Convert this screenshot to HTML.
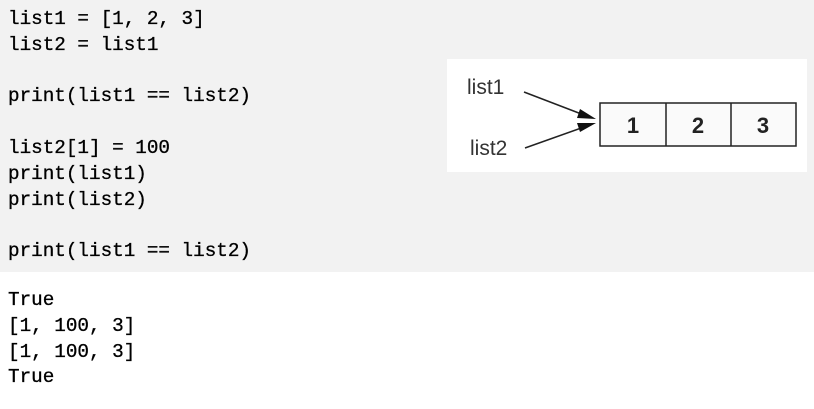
<!DOCTYPE html>
<html><head><style>
body{margin:0;width:814px;height:409px;background:#fff;overflow:hidden;position:relative}
.g{position:absolute;left:0;top:0;width:814px;height:272px;background:#f2f2f2}
pre{position:absolute;margin:0;left:8px;font-family:"Liberation Mono",monospace;font-size:19.3px;line-height:25.8px;color:#000;-webkit-text-stroke:0.3px #000}
</style></head><body>
<div class="g"></div>
<pre style="top:7px">list1 = [1, 2, 3]
list2 = list1

print(list1 == list2)

list2[1] = 100
print(list1)
print(list2)

print(list1 == list2)</pre>
<pre style="top:288px">True
[1, 100, 3]
[1, 100, 3]
True</pre>
<svg style="position:absolute;left:0;top:0" width="814" height="409">
<rect x="447" y="59" width="360" height="113" fill="#fff"/>
<text x="467" y="94" font-family="Liberation Sans,sans-serif" font-size="21" fill="#333">list1</text>
<text x="470" y="155" font-family="Liberation Sans,sans-serif" font-size="21" fill="#333">list2</text>
<line x1="524" y1="92" x2="584" y2="115" stroke="#222" stroke-width="1.5"/>
<polygon points="596,119 580,109 577,118" fill="#111"/>
<line x1="525" y1="148" x2="584" y2="127" stroke="#222" stroke-width="1.5"/>
<polygon points="596,123 577,123 580,132" fill="#111"/>
<rect x="600" y="103" width="196" height="43" fill="#fafafa" stroke="#222" stroke-width="1.5"/>
<line x1="666" y1="103" x2="666" y2="146" stroke="#222" stroke-width="1.5"/>
<line x1="731" y1="103" x2="731" y2="146" stroke="#222" stroke-width="1.5"/>
<g font-family="Liberation Sans,sans-serif" font-size="22" font-weight="bold" fill="#222" text-anchor="middle">
<text x="633" y="133">1</text><text x="698" y="133">2</text><text x="763" y="133">3</text></g>
</svg>
</body></html>
